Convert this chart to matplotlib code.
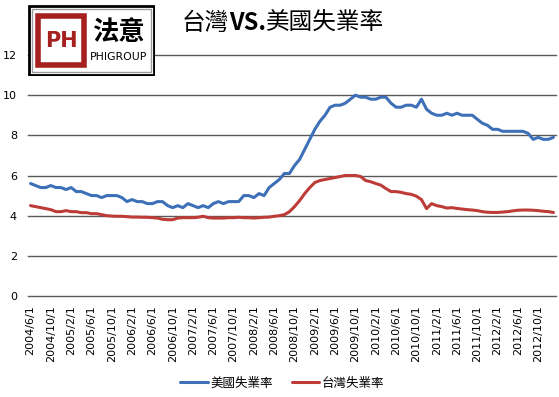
import matplotlib
matplotlib.use("Agg")
import matplotlib.pyplot as plt
from matplotlib.patches import Rectangle

plt.rcParams['font.family'] = ['DejaVu Sans', 'Noto Sans CJK TC']

# monthly, 2004/6 .. 2013/1
us_rate = [5.6, 5.5, 5.4, 5.4, 5.5, 5.4, 5.4,
           5.3, 5.4, 5.2, 5.2, 5.1, 5.0, 5.0, 4.9, 5.0, 5.0, 5.0, 4.9,
           4.7, 4.8, 4.7, 4.7, 4.6, 4.6, 4.7, 4.7, 4.5, 4.4, 4.5, 4.4,
           4.6, 4.5, 4.4, 4.5, 4.4, 4.6, 4.7, 4.6, 4.7, 4.7, 4.7, 5.0,
           5.0, 4.9, 5.1, 5.0, 5.4, 5.6, 5.8, 6.1, 6.1, 6.5, 6.8, 7.3,
           7.8, 8.3, 8.7, 9.0, 9.4, 9.5, 9.5, 9.6, 9.8, 10.0, 9.9, 9.9,
           9.8, 9.8, 9.9, 9.9, 9.6, 9.4, 9.4, 9.5, 9.5, 9.4, 9.8, 9.3,
           9.1, 9.0, 9.0, 9.1, 9.0, 9.1, 9.0, 9.0, 9.0, 8.8, 8.6, 8.5,
           8.3, 8.3, 8.2, 8.2, 8.2, 8.2, 8.2, 8.1, 7.8, 7.9, 7.8, 7.8,
           7.9]

tw_rate = [4.5, 4.45, 4.4, 4.35, 4.3, 4.2, 4.2,
           4.25, 4.2, 4.2, 4.15, 4.15, 4.1, 4.1, 4.05, 4.0, 3.98, 3.97, 3.97,
           3.95, 3.93, 3.93, 3.92, 3.92, 3.9, 3.88, 3.82, 3.8, 3.8, 3.88, 3.9,
           3.9, 3.9, 3.92, 3.97, 3.9, 3.88, 3.88, 3.88, 3.9, 3.9, 3.92, 3.9,
           3.9, 3.88, 3.9, 3.92, 3.93, 3.97, 4.0, 4.05, 4.2, 4.45, 4.75, 5.1,
           5.4, 5.65, 5.75, 5.8, 5.85, 5.9, 5.95, 6.0, 6.0, 6.0, 5.95, 5.75,
           5.69, 5.6, 5.52, 5.35, 5.2, 5.2, 5.16, 5.1, 5.06, 4.97, 4.8, 4.35,
           4.6, 4.5, 4.45, 4.38, 4.4, 4.36, 4.33, 4.3, 4.28, 4.25, 4.2, 4.17,
           4.16, 4.16, 4.18, 4.2, 4.24, 4.27, 4.28, 4.28, 4.27, 4.25, 4.22, 4.2,
           4.16]

tick_labels = ['2004/6/1', '2004/10/1', '2005/2/1', '2005/6/1', '2005/10/1',
               '2006/2/1', '2006/6/1', '2006/10/1', '2007/2/1', '2007/6/1',
               '2007/10/1', '2008/2/1', '2008/6/1', '2008/10/1', '2009/2/1',
               '2009/6/1', '2009/10/1', '2010/2/1', '2010/6/1', '2010/10/1',
               '2011/2/1', '2011/6/1', '2011/10/1', '2012/2/1', '2012/6/1',
               '2012/10/1']

W, H = 559, 397
fig = plt.figure(figsize=(W / 100, H / 100), dpi=100)
ax = fig.add_axes([28 / W, 1 - 296 / H, 528 / W, 241 / H])

x = list(range(len(us_rate)))
l1, = ax.plot(x, us_rate, color='#3d70b7', lw=2.2, solid_capstyle='round')
l2, = ax.plot(x, tw_rate, color='#bd3c38', lw=2.2, solid_capstyle='round')

ax.set_xlim(-0.5, len(x) - 0.5)
ax.set_ylim(0, 12)
ax.set_yticks(range(0, 13, 2))
ax.set_xticks(range(0, len(x), 4))
ax.set_xticklabels(tick_labels, rotation=90, va='top', ha='center')
ax.tick_params(axis='both', length=0, labelsize=8, colors='black')
ax.tick_params(axis='y', pad=8)
ax.tick_params(axis='x', pad=6.5)
for s in ax.spines.values():
    s.set_visible(False)
ax.yaxis.grid(True, color='#595959', lw=1)
ax.set_axisbelow(True)
for g in ax.get_ygridlines():
    g.set_clip_on(False)

# title: CJK regular, "VS." bold
cjk = ['Noto Sans CJK TC']
t1 = fig.text(182 / W, 0.942, '台灣', ha='left', va='center', fontsize=17, family=cjk)
t2 = ax.annotate('VS.', xy=(1, 0), xycoords=t1, ha='left', va='bottom',
                 fontsize=17, family=cjk, fontweight='bold')
ax.annotate('美國失業率', xy=(1, 0), xycoords=t2, ha='left', va='bottom',
            fontsize=17, family=cjk)

fig.legend([l1, l2], ['美國失業率', '台灣失業率'], loc='center',
           bbox_to_anchor=(0.505, 0.035), ncol=2, frameon=False,
           prop={'family': cjk, 'size': 9},
           handlelength=2.2, handletextpad=0.2, columnspacing=1.5)

# logo box
lg = fig.add_axes([28 / W, 1 - 76 / H, 127 / W, 71 / H])
lg.set_xlim(0, 127)
lg.set_ylim(71, 0)
lg.axis('off')
lg.add_patch(Rectangle((1, 1), 125, 69, facecolor='white', edgecolor='black', lw=2))
lg.add_patch(Rectangle((4, 4), 119, 63, facecolor='white', edgecolor='#9a9a9a', lw=1))
lg.add_patch(Rectangle((10, 11), 46, 49, facecolor='white', edgecolor='#a5201f', lw=4))
lg.text(33, 36, 'PH', color='#a5201f', fontsize=15, fontweight='bold',
        ha='center', va='center')
lg.text(90, 27, '法意', fontsize=19, fontweight='bold', ha='center', va='center',
        family=cjk)
lg.text(91, 52, 'PHIGROUP', fontsize=7.8, ha='center', va='center')

fig.savefig('out.png', dpi=100)
